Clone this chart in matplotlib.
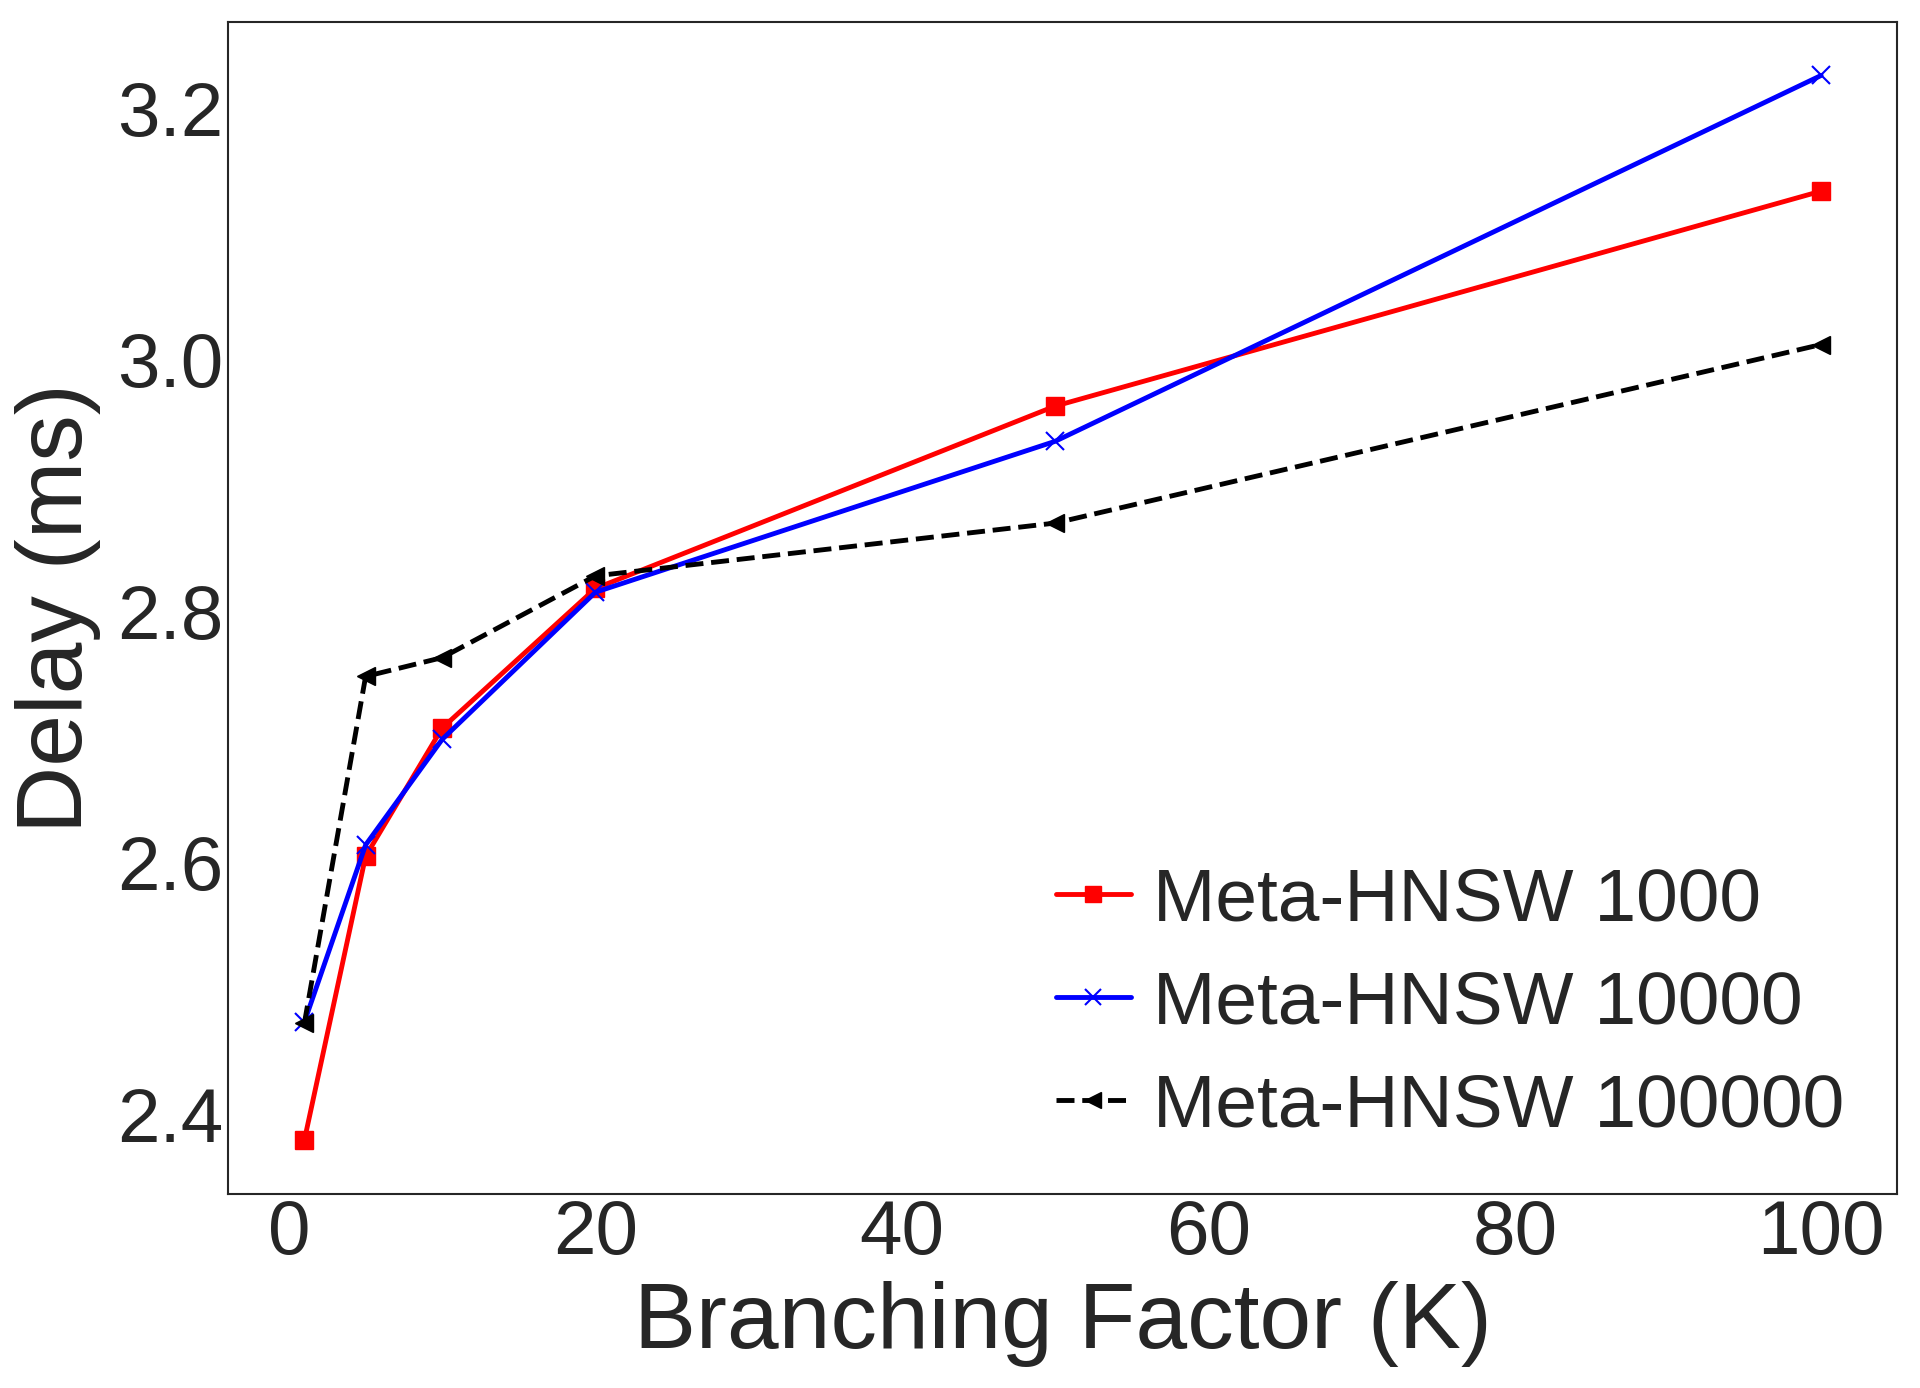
import matplotlib.pyplot as plt

k = [1, 5, 10, 20, 50, 100]
d1000 = [2.379, 2.605, 2.707, 2.818, 2.963, 3.134]
d10000 = [2.473, 2.614, 2.698, 2.815, 2.935, 3.226]
d100000 = [2.472, 2.748, 2.763, 2.828, 2.870, 3.012]
names = ['Meta-HNSW 1000', 'Meta-HNSW 10000', 'Meta-HNSW 100000']

plt.style.use('seaborn-v0_8-white')
plt.rcParams['font.family'] = ['Liberation Sans', 'DejaVu Sans']

fig = plt.figure(figsize=(19.2, 13.88), dpi=100)
ax = fig.add_axes([0.119, 0.140, 0.869, 0.844])
ax.plot(k, d1000, color='red', marker='s', markersize=13, linewidth=3.5, label=names[0])
ax.plot(k, d10000, color='blue', marker='x', markersize=13, markeredgewidth=1.5, linewidth=3.5, label=names[1])
ax.plot(k, d100000, color='black', marker='<', markersize=13, linewidth=3.5, linestyle='--', label=names[2])

ax.tick_params(labelsize=55)
ax.set_xlabel('Branching Factor (K)', fontsize=67, labelpad=8)
ax.set_ylabel('Delay (ms)', fontsize=67, labelpad=12)
for s in ax.spines.values():
    s.set_linewidth(1.5)
ax.legend(loc='lower right', fontsize=54, frameon=False, handlelength=1.0,
          handletextpad=0.3, markerscale=0.85, borderaxespad=0.3, labelspacing=0.45)
fig.savefig('out.png', dpi=100)
